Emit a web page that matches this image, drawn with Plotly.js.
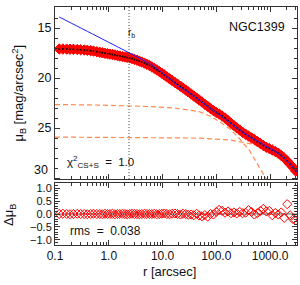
<!DOCTYPE html>
<html><head><meta charset="utf-8">
<script src="https://cdn.plot.ly/plotly-3.0.1.min.js"></script>
<style>html,body{margin:0;padding:0;background:#fff}#c{width:300px;height:285px}</style>
</head><body><div id="c"></div>
<script>
// observed profile (arcsec, mag/arcsec^2)
const rData = [0.12,0.14,0.165,0.19,0.22,0.26,0.3,0.35,0.4,0.46,0.52,0.6,0.68,0.76,0.85,0.95,1.05,1.17,1.3,1.45,1.6,1.8,2.0,2.2,2.45,2.7,3.0,3.35,3.7,4.1,4.6,5.1,5.7,6.3,7.0,7.8,8.7,9.7,10.8,12,13.5,15,17,19,21.5,24,27,30,34,38,43,48,54,61,69,78,88,100,113,128,145,165,187,212,240,272,308,350,397,450,510,580,660,750,850,965,1100,1250,1420,1610,1830,2080,2360,2680,3000];
const muData = [17.10,17.10,17.11,17.12,17.13,17.15,17.17,17.20,17.23,17.27,17.31,17.37,17.43,17.48,17.53,17.57,17.61,17.65,17.70,17.75,17.80,17.86,17.90,17.94,17.99,18.06,18.14,18.22,18.31,18.40,18.51,18.62,18.75,18.88,19.03,19.18,19.35,19.52,19.70,19.88,20.07,20.25,20.45,20.62,20.82,21.00,21.20,21.38,21.60,21.80,22.00,22.20,22.40,22.62,22.83,23.05,23.25,23.45,23.60,23.80,24.00,24.25,24.52,24.75,24.98,25.20,25.42,25.62,25.80,25.98,26.15,26.35,26.55,26.75,26.92,27.05,27.20,27.35,27.52,27.75,28.00,28.30,28.62,28.95,29.30];
const resid = [0.0,0.01,0.0,-0.01,0.0,0.01,0.0,0.0,-0.01,0.0,0.01,0.0,0.0,-0.01,0.01,0.0,0.0,0.01,-0.01,0.0,0.0,0.01,0.0,-0.01,0.0,0.01,0.0,0.0,-0.01,0.0,0.01,0.0,0.0,0.0,0.01,-0.01,0.0,0.01,0.02,0.0,-0.01,0.01,0.02,0.0,-0.02,0.01,0.0,-0.03,-0.02,-0.05,0.01,-0.06,-0.09,-0.04,-0.10,0.0,-0.02,0.08,0.16,0.12,0.05,0.10,0.03,0.06,0.02,0.08,0.03,0.05,0.15,0.08,-0.02,0.03,0.12,0.20,0.10,0.12,-0.05,0.04,-0.02,0.06,-0.15,0.38,-0.05,-0.20,-0.25];
// total model (core-Sersic + Sersic)
const rModel = [0.12,0.2,0.5,1,2,2.38,3,4,5,6,7,8.5,10,12,15,20,30,50,100,200,350,500,700,1000,1400,2000,3200];
const muModel = [13.90,14.51,15.60,16.43,17.26,17.47,17.75,18.10,18.38,18.62,18.85,19.20,19.50,19.85,20.25,20.85,21.38,22.27,23.45,24.65,25.60,26.10,26.55,27.05,27.50,28.20,29.40];
// components
const rComp1 = [0.1,0.69,5.85,17,47.6,76,117,180,275,343,420,525,650,810,900];
const muComp1 = [22.65,22.70,22.85,23.00,23.35,23.80,24.40,25.10,26.10,26.70,27.30,28.20,29.00,29.90,30.40];
const rComp2 = [0.1,1,10,47.6,180,275,420,709,1400,2350,3200];
const muComp2 = [25.90,25.92,25.95,26.00,26.20,26.35,26.55,26.85,27.55,28.50,29.35];
const rBreak = 2.38;
const xTickVals = [0.1,1,10,100,1000];
const xTickText = ['0.1','1.0','10.0','100.0','1000.0'];
const yTopTicks = [15,20,25,30];
const yTopText = ['15','20','25',''];
const yBotTicks = [-1,-0.5,0,0.5,1];
const yBotText = ['\u22121.0','\u22120.5','0.0','0.5','1.0'];
const xMinor = [];
xTickVals.forEach(d=>{for(let k=2;k<=9;k++){xMinor.push(d*k);}});

const red='#ff0000', orange='#ff8a4c', axc='#333';
const F='Liberation Sans, Arial, sans-serif';
const traces = [
 {x:rComp1,y:muComp1,xaxis:'x2',yaxis:'y2',mode:'lines',line:{color:orange,width:1.2,dash:'5px,3px'}},
 {x:rComp2,y:muComp2,xaxis:'x2',yaxis:'y2',mode:'lines',line:{color:orange,width:1.2,dash:'5px,3px'}},
 {x:rData,y:muData,xaxis:'x2',yaxis:'y2',mode:'markers',marker:{symbol:'diamond',size:8,color:red,line:{color:red,width:1}}},
 {x:rData,y:muData,xaxis:'x2',yaxis:'y2',mode:'markers',marker:{symbol:'circle',size:2,color:'#200000'}},
 {x:rModel,y:muModel,xaxis:'x2',yaxis:'y2',mode:'lines',line:{color:'#2020ff',width:1,shape:'spline'}},
 {x:rData,y:resid,xaxis:'x',yaxis:'y',mode:'markers',marker:{symbol:'diamond-open',size:7,color:red,line:{color:red,width:1}}}
];
const axBase = {showline:true,linecolor:axc,linewidth:1,mirror:'ticks',ticks:'inside',tickcolor:axc,ticklen:5,showgrid:false,zeroline:false,tickfont:{family:F,size:12.5,color:'#111'}};
const layout = {
 width:300,height:285,margin:{l:55,r:3,t:7,b:40},paper_bgcolor:'#fff',plot_bgcolor:'#fff',showlegend:false,
 font:{family:F,color:'#111'},
 xaxis:Object.assign({},axBase,{type:'log',range:[-1,3.5],tickvals:xTickVals,ticktext:xTickText,anchor:'y',tickfont:{family:F,size:12,color:'#111'},
   minor:{tickvals:xMinor,ticks:'inside',ticklen:3,tickcolor:axc}}),
 yaxis:Object.assign({},axBase,{domain:[0,0.2605],range:[-1.2,1.2],tickvals:yBotTicks,ticktext:yBotText,tickfont:{family:F,size:11,color:'#111'},
   minor:{dtick:0.1,ticks:'inside',ticklen:3,tickcolor:axc}}),
 xaxis2:Object.assign({},axBase,{type:'log',range:[-1,3.5],tickvals:xTickVals,showticklabels:false,anchor:'y2',matches:'x',
   minor:{tickvals:xMinor,ticks:'inside',ticklen:3,tickcolor:axc}}),
 yaxis2:Object.assign({},axBase,{domain:[0.277,1],range:[30.1,12.9],tickvals:yTopTicks,ticktext:yTopText,anchor:'x2',
   minor:{dtick:1,ticks:'inside',ticklen:3,tickcolor:axc}}),
 shapes:[
  {type:'line',xref:'x2',yref:'y2 domain',x0:rBreak,x1:rBreak,y0:0,y1:1,line:{color:'#444',width:1,dash:'1px,2px'}},
  {type:'line',xref:'x domain',yref:'y',x0:0,x1:1,y0:0,y1:0,line:{color:'#333',width:0.8},layer:'below'}
 ],
 annotations:[
  {xref:'paper',yref:'paper',x:-0.02,y:0.315,xanchor:'right',yanchor:'middle',text:'30',showarrow:false,font:{family:F,size:12.5,color:'#111'}},
  {xref:'paper',yref:'paper',x:0.959,y:0.916,xanchor:'right',yanchor:'middle',text:'NGC1399',showarrow:false,font:{family:F,size:12.5,color:'#111'}},
  {xref:'paper',yref:'paper',x:0.318,y:0.891,xanchor:'center',yanchor:'middle',text:'r<sub>b</sub>',showarrow:false,font:{family:F,size:10,color:'#111'}},
  {xref:'paper',yref:'paper',x:0.041,y:0.349,xanchor:'left',yanchor:'middle',text:'\u03c7<sup>2</sup><sub>CS+S</sub>  =  1.0',showarrow:false,font:{family:F,size:11.5,color:'#111'}},
  {xref:'paper',yref:'paper',x:0.054,y:0.059,xanchor:'left',yanchor:'middle',text:'rms  =  0.038',showarrow:false,font:{family:F,size:12,color:'#111'}},
  {xref:'paper',yref:'paper',x:-0.150,y:0.639,xanchor:'center',yanchor:'middle',textangle:-90,text:'\u03bc<sub>B</sub> [mag/arcsec<sup>2</sup>]',showarrow:false,font:{family:F,size:13,color:'#111'}},
  {xref:'paper',yref:'paper',x:-0.190,y:0.126,xanchor:'center',yanchor:'middle',textangle:-90,text:'\u0394\u03bc<sub>B</sub>',showarrow:false,font:{family:F,size:13,color:'#111'}},
  {xref:'paper',yref:'paper',x:0.475,y:-0.112,xanchor:'center',yanchor:'middle',text:'r [arcsec]',showarrow:false,font:{family:F,size:13,color:'#111'}}
 ]
};
Plotly.newPlot('c',traces,layout,{staticPlot:true,displayModeBar:false});
</script></body></html>
